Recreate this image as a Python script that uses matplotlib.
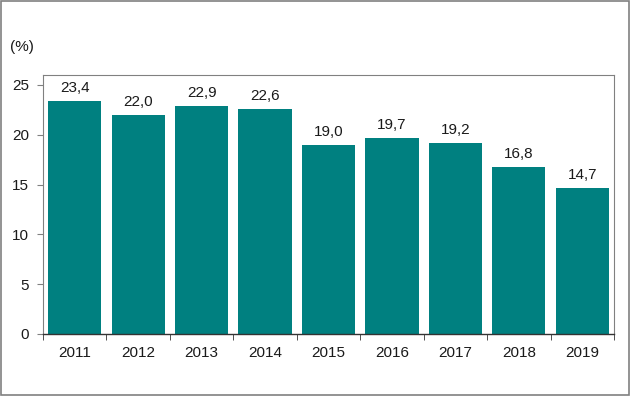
from matplotlib import pyplot as plt
from matplotlib.patches import Rectangle
import numpy as np

plt.rcParams.update({"font.size": 11, "font.family": ["Liberation Sans", "DejaVu Sans"]})

years = ["2011", "2012", "2013", "2014", "2015", "2016", "2017", "2018", "2019"]
values = [23.4, 22.0, 22.9, 22.6, 19.0, 19.7, 19.2, 16.8, 14.7]

BAR_COLOR = "#008080"

fig = plt.figure(figsize=(6.3, 3.96), dpi=100)
ax = fig.add_axes([0.0683, 0.1566, 0.9063, 0.654])

x = np.arange(len(years))
ax.bar(x, values, width=0.84, color=BAR_COLOR, zorder=2)

for xi, v in zip(x, values):
    ax.text(xi, v + 0.6, f"{v:.1f}".replace(".", ","), ha="center", va="bottom",
            fontsize=11, color="#1a1a1a")

ax.set_xlim(-0.5, len(years) - 0.5)
ax.set_ylim(0, 26)
ax.set_yticks(range(0, 26, 5))
ax.set_xticks(x)
ax.set_xticklabels(years)
ax.set_xticks(np.arange(-0.5, len(years), 1.0), minor=True)
ax.tick_params(axis="x", which="major", length=0, pad=9, labelsize=11, labelcolor="#1a1a1a")
ax.tick_params(axis="x", which="minor", length=4, direction="out", color="#333333")
ax.tick_params(axis="y", length=4, direction="out", color="#808080", labelsize=11,
               labelcolor="#1a1a1a", pad=6)

for side in ["top", "right", "left"]:
    ax.spines[side].set_color("#808080")
    ax.spines[side].set_linewidth(0.8)
ax.spines["bottom"].set_color("#333333")
ax.spines["bottom"].set_linewidth(1.0)

fig.text(10 / 630, 1 - 47 / 396, "(%)", ha="left", va="center", fontsize=11, color="#1a1a1a")

# outer border
fig.patches.append(Rectangle((0.001, 0.002), 0.997, 0.995, transform=fig.transFigure,
                             fill=False, edgecolor="#808080", linewidth=1.2))

fig.savefig("out.png", dpi=100)
